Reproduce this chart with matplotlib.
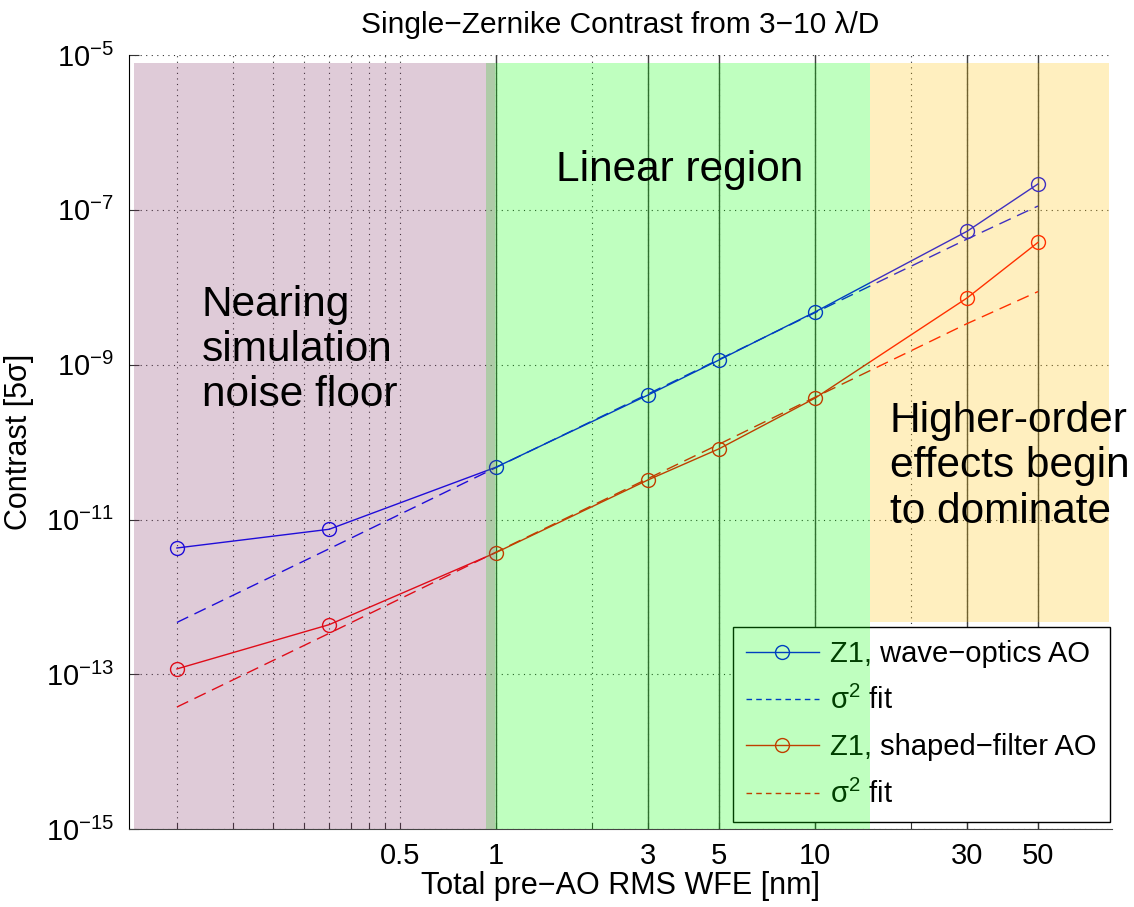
import matplotlib.pyplot as plt
from matplotlib.lines import Line2D

plt.rcParams['font.family'] = ['Liberation Sans', 'DejaVu Sans']
plt.rcParams['mathtext.fontset'] = 'custom'
plt.rcParams['mathtext.rm'] = 'Liberation Sans'
plt.rcParams['mathtext.it'] = 'Liberation Sans:italic'

# --- data ---
wfe_nm = [0.1, 0.3, 1, 3, 5, 10, 30, 50]
wave_optics = [4.3e-12, 7.5e-12, 4.75e-11, 4.07e-10, 1.15e-9, 4.8e-9, 5.3e-8, 2.16e-7]
wave_fit = [4.7e-13, 4.2e-12, 4.7e-11, 4.2e-10, 1.17e-9, 4.7e-9, 4.2e-8, 1.12e-7]
shaped = [1.18e-13, 4.4e-13, 3.75e-12, 3.26e-11, 8.2e-11, 3.7e-10, 7.3e-9, 3.8e-8]
shaped_fit = [3.8e-14, 3.4e-13, 3.8e-12, 3.4e-11, 9.4e-11, 3.8e-10, 3.4e-9, 8.8e-9]

x_ticks = [0.1, 0.15, 0.2, 0.25, 0.3, 0.35, 0.4, 0.45, 0.5, 1, 2, 3, 5, 10, 20, 30, 50]
x_ticklabels = ['', '', '', '', '', '', '', '', '0.5', '1', '', '3', '5', '10', '', '30', '50']
solid_x = [1, 3, 5, 10, 30, 50]
y_ticks = [1e-15, 1e-13, 1e-11, 1e-9, 1e-7, 1e-5]
y_ticklabels = ['$10^{-15}$', '$10^{-13}$', '$10^{-11}$', '$10^{-9}$', '$10^{-7}$', '$10^{-5}$']

# shaded regions: (x0, x1, y0, y1, colour)
regions = [
    (0.928, 14.9, 1e-15, 10**-5.1, (0.0, 1.0, 0.0)),
    (0.0733, 0.991, 1e-15, 10**-5.1, (0.5, 0.2, 0.4)),
    (14.9, 83.5, 10**-12.32, 10**-5.1, (1.0, 0.76, 0.0)),
]

fig = plt.figure(figsize=(11.34, 9.07), dpi=100)
ax = fig.add_axes([0.1140, 0.0856, 0.8666, 0.8538])

ax.plot(wfe_nm, wave_optics, '-o', color='blue', lw=1, ms=10, mfc='none', mew=1)
ax.plot(wfe_nm, wave_fit, color='blue', lw=1, ls=(0, (9, 5)))
ax.plot(wfe_nm, shaped, '-o', color='red', lw=1, ms=10, mfc='none', mew=1)
ax.plot(wfe_nm, shaped_fit, color='red', lw=1, ls=(0, (9, 5)))

ax.set_xscale('log')
ax.set_yscale('log')
ax.set_xlim(0.0709, 85.3)
ax.set_ylim(1e-15, 1e-5)
ax.set_xticks(x_ticks)
ax.set_xticklabels(x_ticklabels)
ax.set_yticks(y_ticks)
ax.set_yticklabels(y_ticklabels)
ax.minorticks_off()
ax.tick_params(axis='y', direction='in', length=7.5, labelsize=21, pad=11, color='#333333')
ax.tick_params(axis='x', direction='in', length=4.5, labelsize=21, pad=9, color='#333333')

for s in ['top', 'right']:
    ax.spines[s].set_visible(False)
ax.spines['left'].set_color('black')
ax.spines['bottom'].set_color('#444444')

# dotted grid, solid lines at the data positions
for xv in x_ticks:
    ax.axvline(xv, color='#333333', lw=0.8, ls=(0, (1, 4)), zorder=0.5)
for yv in y_ticks:
    ax.axhline(yv, color='#333333', lw=0.8, ls=(0, (1, 4)), zorder=0.5)
for xv in solid_x:
    ax.axvline(xv, color='#404040', lw=1, zorder=1)

# legend (under the shading, like the original)
handles = [
    Line2D([0], [0], color='blue', lw=1, marker='o', ms=10, mfc='none'),
    Line2D([0], [0], color='blue', lw=1, ls=(0, (4, 3))),
    Line2D([0], [0], color='red', lw=1, marker='o', ms=10, mfc='none'),
    Line2D([0], [0], color='red', lw=1, ls=(0, (4, 3))),
]
labels = ['Z1, wave\u2212optics AO', '\u03c3$^2$ fit', 'Z1, shaped\u2212filter AO', '\u03c3$^2$ fit']
leg = ax.legend(handles, labels, loc='lower right', bbox_to_anchor=(0.998, 0.0097),
                fontsize=21, fancybox=False, edgecolor='black', framealpha=1,
                handlelength=2.5, handletextpad=0.4, borderaxespad=0,
                labelspacing=0.62, numpoints=1, borderpad=0.45)
leg.get_frame().set_linewidth(1)
leg.set_zorder(5)

for x0, x1, y0, y1, c in regions:
    ax.fill_between([x0, x1], y0, y1, color=c, alpha=0.25, lw=0, zorder=6)

ax.text(0.074, 0.703, 'Nearing\nsimulation\nnoise floor', transform=ax.transAxes,
        fontsize=30.5, va='top', ha='left', linespacing=1.17, zorder=10)
ax.text(0.434, 0.877, 'Linear region', transform=ax.transAxes,
        fontsize=30.5, va='top', ha='left', zorder=10)
ax.text(0.774, 0.553, 'Higher-order\neffects begin\nto dominate', transform=ax.transAxes,
        fontsize=30.5, va='top', ha='left', linespacing=1.17, zorder=10)

ax.set_title('Single\u2212Zernike Contrast from 3\u221210 \u03bb/D', fontsize=21.5, pad=16)
ax.set_xlabel('Total pre\u2212AO RMS WFE [nm]', fontsize=22, labelpad=1)
ax.set_ylabel('Contrast [5\u03c3]', fontsize=22, labelpad=8)

fig.savefig('out.png', dpi=100)
